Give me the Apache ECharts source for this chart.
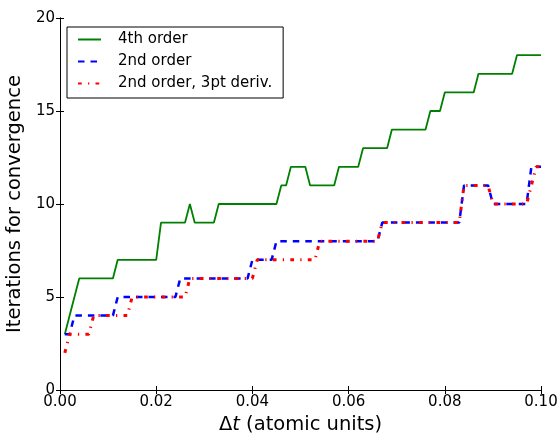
<!DOCTYPE html>
<html>
<head>
<meta charset="utf-8">
<script src="https://cdn.jsdelivr.net/npm/echarts@6/dist/echarts.min.js"></script>
<style>
html,body{margin:0;padding:0;background:#fff;}
#chart{width:558px;height:433px;}
</style>
</head>
<body>
<div id="chart"></div>
<script>
// Time step values (atomic units)
var dt = [0.001,0.002,0.003,0.004,0.005,0.006,0.007,0.008,0.009,0.010,
          0.011,0.012,0.013,0.014,0.015,0.016,0.017,0.018,0.019,0.020,
          0.021,0.022,0.023,0.024,0.025,0.026,0.027,0.028,0.029,0.030,
          0.031,0.032,0.033,0.034,0.035,0.036,0.037,0.038,0.039,0.040,
          0.041,0.042,0.043,0.044,0.045,0.046,0.047,0.048,0.049,0.050,
          0.051,0.052,0.053,0.054,0.055,0.056,0.057,0.058,0.059,0.060,
          0.061,0.062,0.063,0.064,0.065,0.066,0.067,0.068,0.069,0.070,
          0.071,0.072,0.073,0.074,0.075,0.076,0.077,0.078,0.079,0.080,
          0.081,0.082,0.083,0.084,0.085,0.086,0.087,0.088,0.089,0.090,
          0.091,0.092,0.093,0.094,0.095,0.096,0.097,0.098,0.099,0.100];

var fourthOrder = [3,4,5,6,6,6,6,6,6,6,
                   6,7,7,7,7,7,7,7,7,7,
                   9,9,9,9,9,9,10,9,9,9,
                   9,9,10,10,10,10,10,10,10,10,
                   10,10,10,10,10,11,11,12,12,12,
                   12,11,11,11,11,11,11,12,12,12,
                   12,12,13,13,13,13,13,13,14,14,
                   14,14,14,14,14,14,15,15,15,16,
                   16,16,16,16,16,16,17,17,17,17,
                   17,17,17,17,18,18,18,18,18,18];

var secondOrder = [3,3,4,4,4,4,4,4,4,4,
                   4,5,5,5,5,5,5,5,5,5,
                   5,5,5,5,6,6,6,6,6,6,
                   6,6,6,6,6,6,6,6,6,7,
                   7,7,7,7,8,8,8,8,8,8,
                   8,8,8,8,8,8,8,8,8,8,
                   8,8,8,8,8,8,9,9,9,9,
                   9,9,9,9,9,9,9,9,9,9,
                   9,9,9,11,11,11,11,11,11,10,
                   10,10,10,10,10,10,10,12,12,12];

var secondOrder3pt = [2,3,3,3,3,3,4,4,4,4,
                      4,4,4,4,5,5,5,5,5,5,
                      5,5,5,5,5,5,6,6,6,6,
                      6,6,6,6,6,6,6,6,6,6,
                      7,7,7,7,7,7,7,7,7,7,
                      7,7,7,8,8,8,8,8,8,8,
                      8,8,8,8,8,8,9,9,9,9,
                      9,9,9,9,9,9,9,9,9,9,
                      9,9,9,11,11,11,11,11,11,10,
                      10,10,10,10,10,10,10,11,12,12];

var seriesNames = ['4th order', '2nd order', '2nd order, 3pt deriv.'];
var xTicks = [0.00, 0.02, 0.04, 0.06, 0.08, 0.10];
var yTicks = [0, 5, 10, 15, 20];

function pairs(ys) {
  return dt.map(function (x, i) { return [x, ys[i]]; });
}

var FONT = 'DejaVu Sans';
var chart = echarts.init(document.getElementById('chart'), null, {renderer: 'canvas'});

var axisCommon = {
  axisLine: {show: true, lineStyle: {color: '#000', width: 1}},
  axisTick: {show: true, inside: true, length: 4, lineStyle: {color: '#000', width: 1}},
  splitLine: {show: false}
};

var option = {
  backgroundColor: '#fff',
  animation: false,
  grid: {left: 60, right: 17, top: 18, bottom: 43, containLabel: false, outerBoundsMode: 'none'},
  legend: {
    orient: 'vertical',
    left: 67, top: 27,
    padding: [5, 11, 7, 10],
    itemWidth: 23, itemHeight: 14, itemGap: 7,
    borderColor: '#000', borderWidth: 1,
    backgroundColor: '#fff',
    itemStyle: {opacity: 0},
    textStyle: {fontFamily: FONT, fontSize: 15, color: '#000', padding: [0, 0, 0, 12]},
    data: seriesNames
  },
  xAxis: [
    Object.assign({
      type: 'value', position: 'bottom',
      min: xTicks[0], max: xTicks[xTicks.length - 1], interval: 0.02,
      axisLabel: {
        fontFamily: FONT, fontSize: 15, color: '#000', margin: 5,
        formatter: function (v) { return v.toFixed(2); }
      },
      name: '{d|\u0394}{t|t} (atomic units)',
      nameLocation: 'middle', nameGap: 25,
      nameTextStyle: {
        fontFamily: FONT, fontSize: 19.5, color: '#000', verticalAlign: 'top',
        rich: {
          d: {fontFamily: FONT, fontSize: 19.5, color: '#000'},
          t: {fontFamily: FONT, fontSize: 19.5, fontStyle: 'italic', color: '#000'}
        }
      }
    }, axisCommon),
    Object.assign({
      type: 'value', position: 'top',
      min: xTicks[0], max: xTicks[xTicks.length - 1], interval: 0.02,
      axisLabel: {show: false}
    }, axisCommon)
  ],
  yAxis: [
    Object.assign({
      type: 'value', position: 'left',
      min: yTicks[0], max: yTicks[yTicks.length - 1], interval: 5,
      axisLabel: {fontFamily: FONT, fontSize: 15, color: '#000', margin: 5},
      name: 'Iterations for convergence',
      nameLocation: 'middle', nameGap: 29,
      nameTextStyle: {fontFamily: FONT, fontSize: 19.5, color: '#000'}
    }, axisCommon),
    Object.assign({
      type: 'value', position: 'right',
      min: yTicks[0], max: yTicks[yTicks.length - 1], interval: 5,
      axisLabel: {show: false}
    }, axisCommon)
  ],
  series: [
    {
      name: seriesNames[0], type: 'line', data: pairs(fourthOrder),
      symbol: 'none', showSymbol: false, clip: true,
      lineStyle: {color: '#008000', width: 1.8, type: 'solid'},
      itemStyle: {color: '#008000'}
    },
    {
      name: seriesNames[1], type: 'line', data: pairs(secondOrder),
      symbol: 'none', showSymbol: false, clip: true,
      lineStyle: {color: '#0000ff', width: 2.5, type: [6.5, 6], cap: 'butt'},
      itemStyle: {color: '#0000ff'}
    },
    {
      name: seriesNames[2], type: 'line', data: pairs(secondOrder3pt),
      symbol: 'none', showSymbol: false, clip: true,
      lineStyle: {color: '#ff0000', width: 3, type: [3.75, 6.25, 1.25, 6.25], cap: 'butt'},
      itemStyle: {color: '#ff0000'}
    }
  ]
};
chart.setOption(option);
</script>
</body>
</html>
